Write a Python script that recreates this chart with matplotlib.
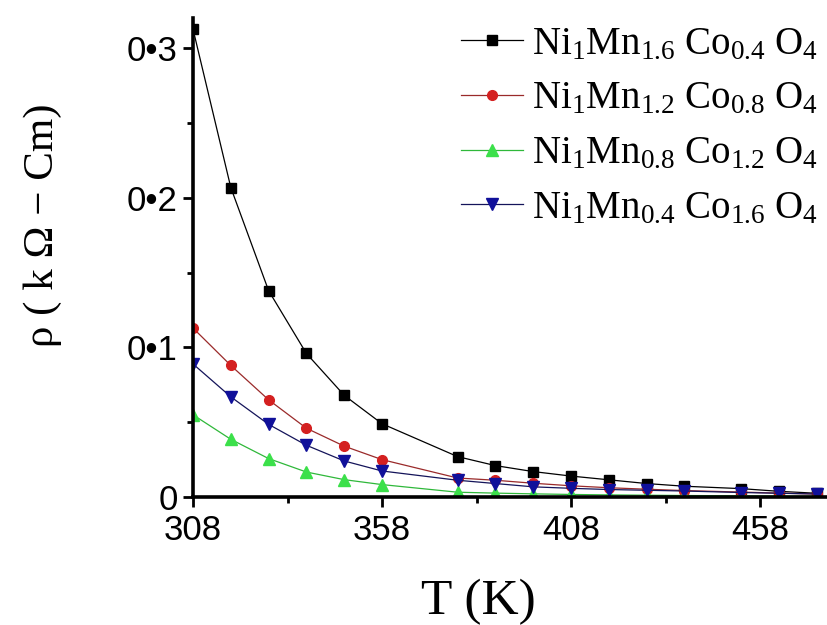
import numpy as np
import matplotlib
matplotlib.use("Agg")
import matplotlib.pyplot as plt
from matplotlib.ticker import MultipleLocator, FixedLocator

plt.rcParams['font.family'] = ['Liberation Sans', 'DejaVu Sans']
plt.rcParams['mathtext.fontset'] = 'custom'
plt.rcParams['mathtext.rm'] = 'Liberation Serif'
plt.rcParams['mathtext.it'] = 'Liberation Serif:italic'

# temperature (K)
temp = [308, 318, 328, 338, 348, 358, 378, 388, 398, 408, 418, 428, 438, 453, 463, 473]

# resistivity (kOhm-Cm)
rho_mn16 = [0.313, 0.207, 0.138, 0.096, 0.068, 0.049, 0.027, 0.021, 0.017, 0.014,
            0.0115, 0.009, 0.0072, 0.0056, 0.0038, 0.0025]
rho_mn12 = [0.113, 0.088, 0.065, 0.046, 0.034, 0.025, 0.0127, 0.0112, 0.0092, 0.0075,
            0.0062, 0.0052, 0.0043, 0.0033, 0.0026, 0.002]
rho_mn08 = [0.055, 0.0386, 0.0257, 0.0167, 0.0116, 0.0083, 0.0032, 0.0026, 0.0021, 0.0017,
            0.0014, 0.0012, 0.001, 0.0008, 0.0006, 0.0005]
rho_mn04 = [0.089, 0.067, 0.0486, 0.0346, 0.0241, 0.0174, 0.0112, 0.009, 0.0068, 0.0058,
            0.005, 0.0045, 0.004, 0.003, 0.0025, 0.002]

labels = [r'$\mathrm{Ni_1Mn_{1.6}\ Co_{0.4}\ O_4}$',
          r'$\mathrm{Ni_1Mn_{1.2}\ Co_{0.8}\ O_4}$',
          r'$\mathrm{Ni_1Mn_{0.8}\ Co_{1.2}\ O_4}$',
          r'$\mathrm{Ni_1Mn_{0.4}\ Co_{1.6}\ O_4}$']

fig = plt.figure(figsize=(8.27, 6.25), dpi=100)
ax = fig.add_axes([193/827, 128/625, 634/827, 479/625])

ax.plot(temp, rho_mn16, '-s', color='black', lw=0.9, ms=6.5, label=labels[0])
ax.plot(temp, rho_mn12, '-o', color='#9a2a2a', mfc='#d42020', mec='#d42020', lw=0.9, ms=7, label=labels[1])
ax.plot(temp, rho_mn08, '-^', color='#2fb83a', mfc='#3be04a', mec='#3be04a', lw=0.9, ms=8, label=labels[2])
ax.plot(temp, rho_mn04, '-v', color='#14145a', mfc='#10109a', mec='#10109a', lw=0.9, ms=8, label=labels[3])

ax.set_xlim(308, 475.7)
ax.set_ylim(0, 0.3204)

ax.set_xticks([308, 358, 408, 458])
ax.xaxis.set_minor_locator(FixedLocator([333, 383, 433]))
ax.set_yticks([0, 0.1, 0.2, 0.3])
ax.set_yticklabels(['0', '0\u20221', '0\u20222', '0\u20223'])
ax.yaxis.set_minor_locator(MultipleLocator(0.05))

for side in ['top', 'right']:
    ax.spines[side].set_visible(False)
for side in ['left', 'bottom']:
    ax.spines[side].set_linewidth(2.6)

ax.tick_params(which='major', direction='out', length=7, width=2, labelsize=25)
ax.tick_params(which='minor', direction='out', length=4, width=2)
ax.tick_params(axis='x', pad=5)
ax.tick_params(axis='y', pad=4)

ax.set_xlabel('T (K)', fontsize=37, family='Liberation Serif', va='center')
ax.xaxis.set_label_coords(0.4495, -0.219)
ax.set_ylabel('\u03c1 ( k \u03a9 \u2212 Cm)', fontsize=31, family='Liberation Serif', va='center')
ax.yaxis.set_label_coords(-0.237, 0.568)

ax.legend(loc='upper right', bbox_to_anchor=(1.022, 1.032), frameon=False, fontsize=28,
          handlelength=1.6, handletextpad=0.22, labelspacing=0.48, borderaxespad=0.2)

plt.savefig('out.png', dpi=100)
